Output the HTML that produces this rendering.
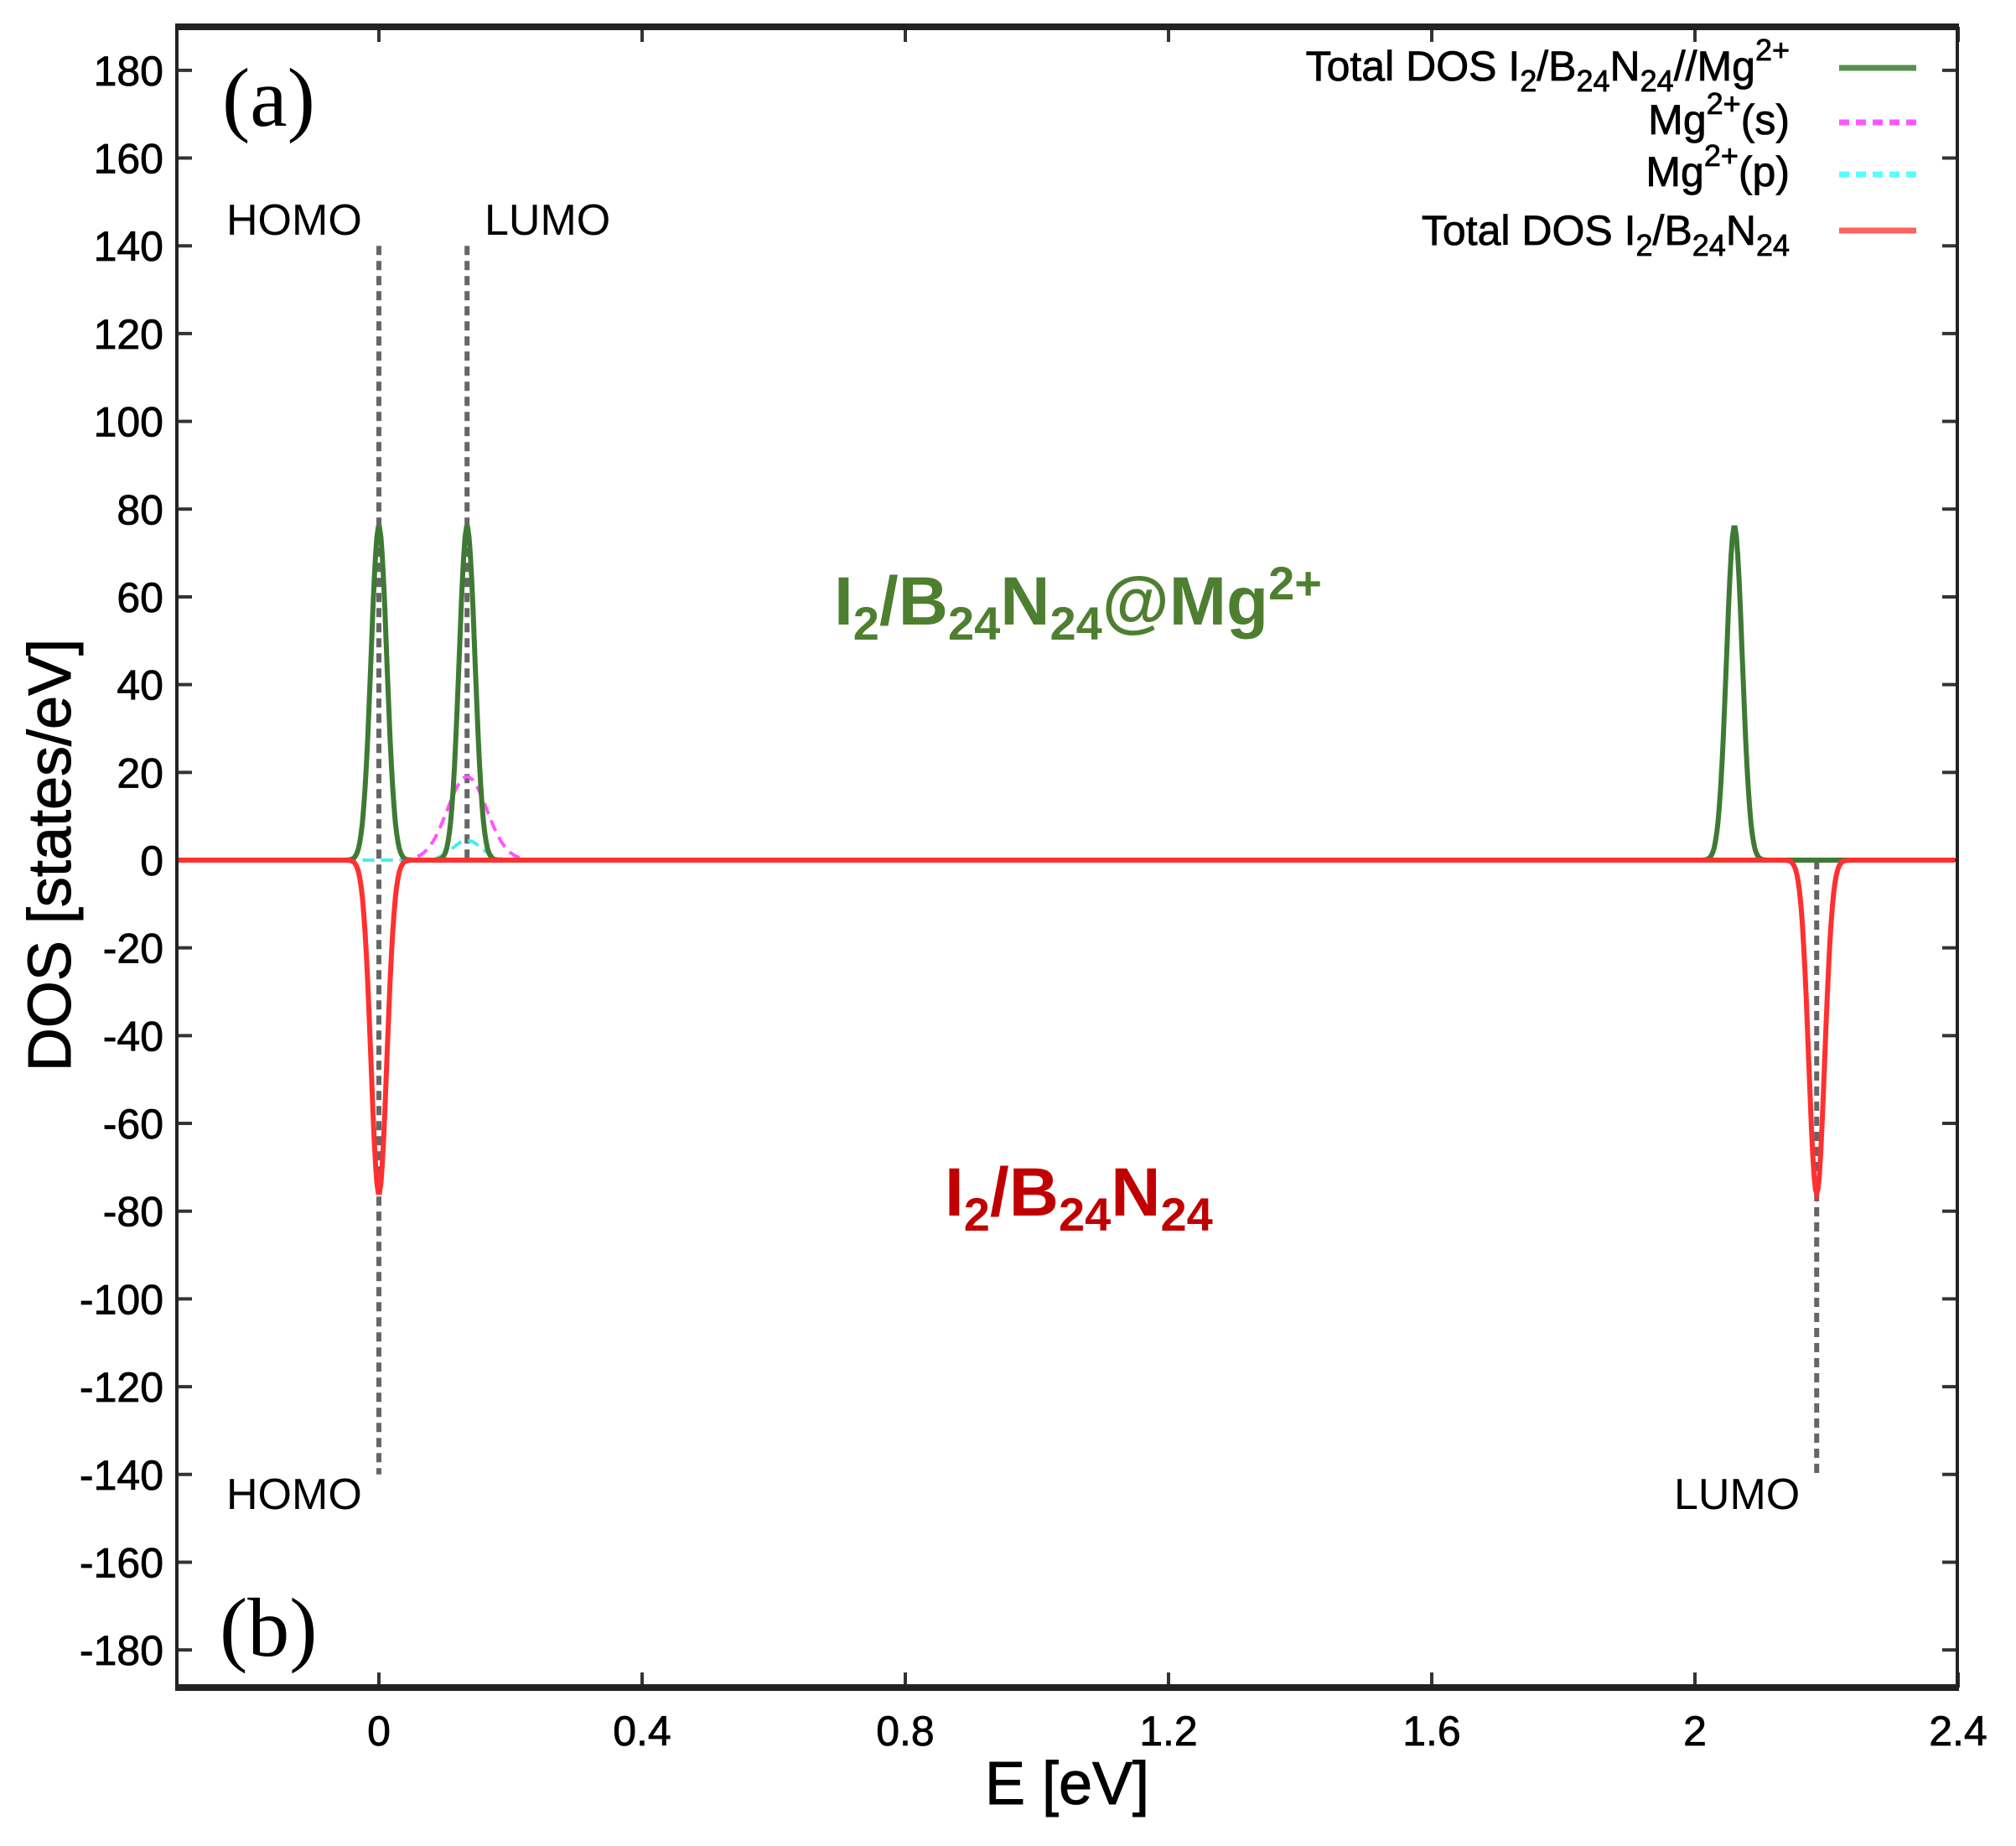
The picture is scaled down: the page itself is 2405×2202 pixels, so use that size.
<!DOCTYPE html>
<html><head><meta charset="utf-8"><style>
html,body{margin:0;padding:0;background:#fff}
svg{display:block}
text{font-family:"Liberation Sans",Arial,sans-serif}
</style></head><body>
<svg id="s" width="2405" height="2202" viewBox="0 0 2405 2202" xmlns="http://www.w3.org/2000/svg">
<g id="ticks" stroke="#333" stroke-width="4"></g>
<g id="labels" font-size="50" fill="#000" stroke="#000" stroke-width="0.8"></g>
<g id="curves" fill="none"></g>
<rect x="211" y="32" width="2124" height="1981" fill="none" stroke="#222" stroke-width="4"/>
<line x1="209" y1="32" x2="2337" y2="32" stroke="#222" stroke-width="8"/>
<line x1="209" y1="2013" x2="2337" y2="2013" stroke="#222" stroke-width="8"/>
<text x="265" y="150" font-size="100" style="font-family:'Liberation Serif',serif">(a)</text>
<text x="262" y="1975" font-size="100" style="font-family:'Liberation Serif',serif">(b)</text>
<text x="270" y="280" font-size="52">HOMO</text>
<text x="578" y="280" font-size="52">LUMO</text>
<text x="270" y="1800" font-size="52">HOMO</text>
<text x="1997" y="1800" font-size="52">LUMO</text>
<text x="995" y="745" font-size="82" font-weight="bold" fill="#4e7f30">I<tspan font-size="56" dy="18">2</tspan><tspan dy="-18">/B</tspan><tspan font-size="56" dy="18">24</tspan><tspan dy="-18">N</tspan><tspan font-size="56" dy="18">24</tspan><tspan dy="-18">@Mg</tspan><tspan font-size="56" dy="-30">2+</tspan></text>
<text x="1127" y="1450" font-size="82" font-weight="bold" fill="#c00000">I<tspan font-size="56" dy="18">2</tspan><tspan dy="-18">/B</tspan><tspan font-size="56" dy="18">24</tspan><tspan dy="-18">N</tspan><tspan font-size="56" dy="18">24</tspan></text>
<g font-size="50" text-anchor="end" stroke="#000" stroke-width="0.8">
<text x="2135" y="96">Total DOS I<tspan font-size="36" dy="13">2</tspan><tspan dy="-13">/B</tspan><tspan font-size="36" dy="13">24</tspan><tspan dy="-13">N</tspan><tspan font-size="36" dy="13">24</tspan><tspan dy="-13">//Mg</tspan><tspan font-size="36" dy="-24">2+</tspan></text>
<text x="2135" y="160">Mg<tspan font-size="36" dy="-24">2+</tspan><tspan dy="24">(s)</tspan></text>
<text x="2135" y="222">Mg<tspan font-size="36" dy="-24">2+</tspan><tspan dy="24">(p)</tspan></text>
<text x="2135" y="292">Total DOS I<tspan font-size="36" dy="13">2</tspan><tspan dy="-13">/B</tspan><tspan font-size="36" dy="13">24</tspan><tspan dy="-13">N</tspan><tspan font-size="36" dy="13">24</tspan></text>
</g>
<line x1="2194" y1="81" x2="2286" y2="81" stroke="#5a8f4e" stroke-width="7"/>
<line x1="2194" y1="146" x2="2286" y2="146" stroke="#ff55ff" stroke-width="7" stroke-dasharray="12,8"/>
<line x1="2194" y1="208" x2="2286" y2="208" stroke="#55ffff" stroke-width="7" stroke-dasharray="12,8"/>
<line x1="2194" y1="275" x2="2286" y2="275" stroke="#ff6060" stroke-width="7"/>
<text transform="translate(84,1020) rotate(-90)" text-anchor="middle" font-size="72" stroke="#000" stroke-width="1">DOS [states/eV]</text>
<text x="1273" y="2152" text-anchor="middle" font-size="72" stroke="#000" stroke-width="1">E [eV]</text>
</svg>
<script>
var NS="http://www.w3.org/2000/svg";
function X(e){return 452+e*785}
function Y(v){return 1026-v*5.234}
function el(p,tag,a,txt){var n=document.createElementNS(NS,tag);for(var k in a)n.setAttribute(k,a[k]);if(txt!==undefined)n.textContent=txt;document.getElementById(p).appendChild(n);return n}
for(var v=-180;v<=180;v+=20){var y=Y(v);el("ticks","line",{x1:211,y1:y,x2:229,y2:y});el("ticks","line",{x1:2317,y1:y,x2:2335,y2:y});
el("labels","text",{x:195,y:y+18,"text-anchor":"end"},String(v));}
var xl=["0","0.4","0.8","1.2","1.6","2","2.4"];
for(var i=0;i<7;i++){var x=X(i*0.4);el("ticks","line",{x1:x,y1:2013,x2:x,y2:1995});el("ticks","line",{x1:x,y1:32,x2:x,y2:50});
el("labels","text",{x:x,y:2082,"text-anchor":"middle"},xl[i]);}
function curve(f,col,w,dash){var d="";for(var e=-0.305;e<=2.395;e+=0.002){d+=(d?"L":"M")+X(e).toFixed(1)+","+Y(f(e)).toFixed(1);}
var a={d:d,stroke:col,"stroke-width":w};if(dash)a["stroke-dasharray"]=dash;el("curves","path",a);}
function g(e,c,s,h){return h*Math.exp(-(e-c)*(e-c)/(2*s*s))}
el("curves","line",{x1:X(0),y1:Y(140),x2:X(0),y2:Y(-140),stroke:"#666","stroke-width":6,"stroke-dasharray":"11,7"});
el("curves","line",{x1:X(0.134),y1:Y(140),x2:X(0.134),y2:Y(0),stroke:"#666","stroke-width":6,"stroke-dasharray":"11,7"});
el("curves","line",{x1:X(2.185),y1:Y(0),x2:X(2.185),y2:Y(-140),stroke:"#666","stroke-width":6,"stroke-dasharray":"11,7"});
curve(function(e){return g(e,0.134,0.03,19)},"#ff55ff",4,"14,8");
curve(function(e){return g(e,0.134,0.022,4.5)},"#44eeee",4,"14,8");
curve(function(e){return g(e,0,0.012,76)+g(e,0.134,0.012,76)+g(e,2.06,0.012,76)},"#3f7a34",6);
curve(function(e){return -g(e,0,0.012,76)-g(e,2.185,0.012,76)},"#ff3030",6);
</script>
</body></html>
